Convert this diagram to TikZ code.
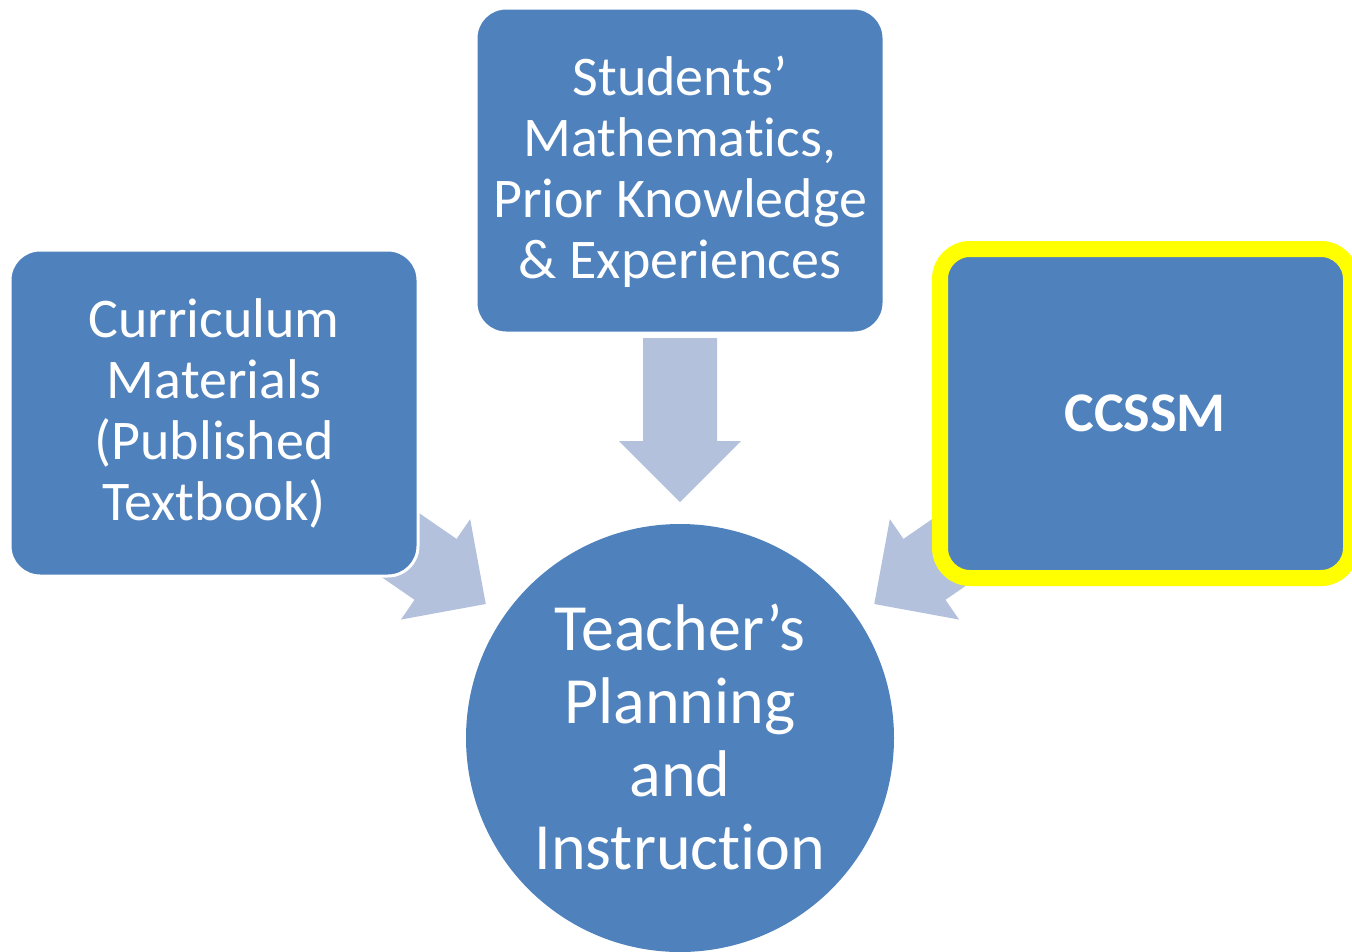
\documentclass[tikz,border=0pt]{standalone}
\usepackage{fontspec}
\setmainfont{Carlito}[Ligatures=NoCommon]
\begin{document}
\begin{tikzpicture}[x=1pt,y=-1pt]
\definecolor{boxblue}{RGB}{79,129,189}
\definecolor{arrowblue}{RGB}{179,193,221}
\definecolor{hiyellow}{RGB}{255,255,0}
\tikzset{
  blockarrow/.style={fill=arrowblue,draw=none},
  boxtext/.style={text=white,align=center,font=\fontsize{56}{61}\selectfont},
  circtext/.style={text=white,align=center,font=\fontsize{66}{73}\selectfont},
}
\useasboundingbox (0,0) rectangle (1352,951);
% centre of the circle
\coordinate (c) at (680,738);
% block arrows (radial, pointing to the circle)
\foreach \ang/\nm in {0/down,55.4/left,-55.4/right}{
  \begin{scope}[shift={(c)},rotate=-\ang]
    \fill[blockarrow] (0,-236) -- (61,-297) -- (37,-297) -- (37,-400)
      -- (-37,-400) -- (-37,-297) -- (-61,-297) -- cycle;
  \end{scope}
}
% boxes
\fill[boxblue,draw=white,line width=3pt,rounded corners=30pt] (10,250) rectangle (418,576);
\node[boxtext] (curr) at (214,413) {Curriculum\\Materials\\(Published\\Textbook)};
\fill[boxblue,draw=white,line width=3pt,rounded corners=30pt] (476,8) rectangle (884,333);
\node[boxtext] (stud) at (680,172) {Students’\\Mathematics,\\Prior Knowledge\\\& Experiences};
\fill[boxblue,draw=hiyellow,line width=16pt,rounded corners=30pt] (940,249) rectangle (1351,578);
\node[boxtext,font=\fontsize{56}{61}\selectfont\bfseries] (ccssm) at (1145,413) {CCSSM};
% circle
\fill[boxblue] (c) circle[radius=214];
\node[circtext] (tpi) at (680,737) {Teacher’s\\Planning\\and\\Instruction};
\end{tikzpicture}
\end{document}
